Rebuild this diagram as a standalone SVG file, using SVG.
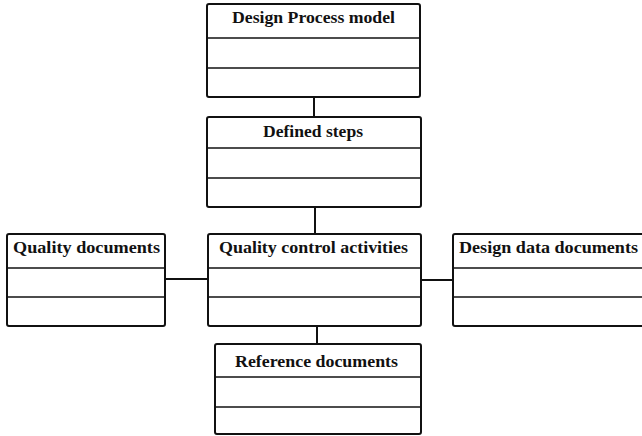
<svg xmlns="http://www.w3.org/2000/svg" width="642" height="436" viewBox="0 0 642 436">
<style>
.box{fill:#fff;stroke:#111;stroke-width:2;}
.div{stroke:#111;stroke-width:1.6;}
.lbl{font-family:"Liberation Serif","Times New Roman",serif;font-weight:bold;font-size:17px;fill:#111;text-anchor:middle;}
.con{stroke:#111;stroke-width:2;fill:none;}
</style>
<rect width="642" height="436" fill="#fff"/>
<g id="connectors">
<line class="con" x1="314" y1="97" x2="314" y2="117"/>
<line class="con" x1="315" y1="207" x2="315" y2="234"/>
<line class="con" x1="165" y1="279" x2="208" y2="279"/>
<line class="con" x1="421" y1="280" x2="453" y2="280"/>
<line class="con" x1="317" y1="326" x2="317" y2="344"/>
</g>
<g id="design-process-model">
<rect class="box" x="207" y="4" width="213" height="93" rx="2"/>
<line class="div" x1="207" y1="38" x2="420" y2="38"/>
<line class="div" x1="207" y1="68" x2="420" y2="68"/>
<text class="lbl" x="313.5" y="23" textLength="163" lengthAdjust="spacingAndGlyphs">Design Process model</text>
</g>
<g id="defined-steps">
<rect class="box" x="207" y="117" width="214" height="90" rx="2"/>
<line class="div" x1="207" y1="148" x2="421" y2="148"/>
<line class="div" x1="207" y1="178" x2="421" y2="178"/>
<text class="lbl" x="313" y="137" textLength="100" lengthAdjust="spacingAndGlyphs">Defined steps</text>
</g>
<g id="quality-documents">
<rect class="box" x="7" y="234" width="158" height="92" rx="2"/>
<line class="div" x1="7" y1="268" x2="165" y2="268"/>
<line class="div" x1="7" y1="297" x2="165" y2="297"/>
<text class="lbl" x="86.5" y="253" textLength="147" lengthAdjust="spacingAndGlyphs">Quality documents</text>
</g>
<g id="quality-control-activities">
<rect class="box" x="208" y="234" width="213" height="92" rx="2"/>
<line class="div" x1="208" y1="268" x2="421" y2="268"/>
<line class="div" x1="208" y1="297" x2="421" y2="297"/>
<text class="lbl" x="313.5" y="253" textLength="189" lengthAdjust="spacingAndGlyphs">Quality control activities</text>
</g>
<g id="design-data-documents">
<rect class="box" x="453" y="234" width="195" height="92" rx="2"/>
<line class="div" x1="453" y1="268" x2="648" y2="268"/>
<line class="div" x1="453" y1="297" x2="648" y2="297"/>
<text class="lbl" x="548.5" y="253" textLength="179" lengthAdjust="spacingAndGlyphs">Design data documents</text>
</g>
<g id="reference-documents">
<rect class="box" x="215" y="344" width="206" height="90" rx="2"/>
<line class="div" x1="215" y1="377" x2="421" y2="377"/>
<line class="div" x1="215" y1="407" x2="421" y2="407"/>
<text class="lbl" x="316.5" y="367" textLength="163" lengthAdjust="spacingAndGlyphs">Reference documents</text>
</g>
</svg>
